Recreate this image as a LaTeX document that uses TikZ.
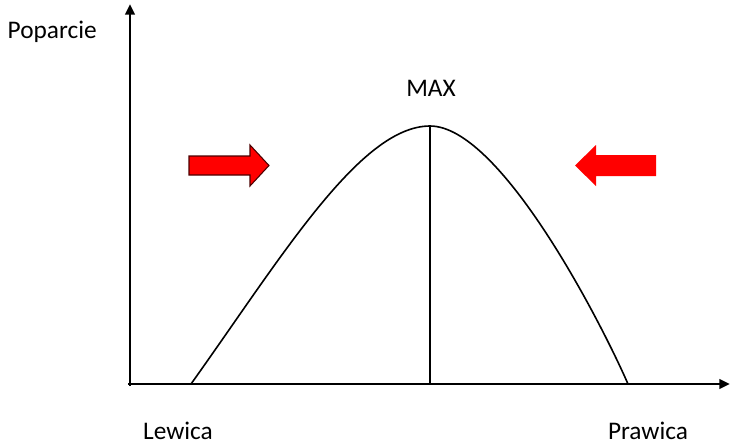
\documentclass[tikz,border=0pt]{standalone}
\usepackage{fontspec}
\setmainfont{Carlito}
\usetikzlibrary{arrows.meta}

\begin{document}
\begin{tikzpicture}[x=0.75pt,y=-0.75pt,
    every node/.style={font=\fontsize{19}{22}\selectfont},
    axis/.style={line width=2.2pt,-{Triangle[length=8pt,width=7pt]}},
    push/.style={fill=red}]
        \useasboundingbox (0,0) rectangle (733,444);

        % 1. Axes
        \coordinate (origin) at (130,384);
        \coordinate (ytop) at (130,4);
        \coordinate (xend) at (730,384);
        \draw[axis] (130,386) -- (ytop);
        \draw[axis] (128,384) -- (xend);

        % 2. Labels
        \node[anchor=west] (poparcie) at (3,32) {Poparcie};
        \node (lewica) at (178,431) {Lewica};
        \node (prawica) at (648,431) {Prawica};
        \node (max) at (431,88) {MAX};

        % 3. Curve with its peak
        \coordinate (peak) at (430,126);
        \coordinate (peakfoot) at (430,384);
        \draw[line width=1.2pt] (191,384) .. controls (281,258) and (360,126) .. (peak)
            .. controls (500,126) and (600,320) .. (628,384);
        \draw[line width=1.2pt] (peak) -- (peakfoot);

        % 4. Arrows pushing to the centre
        \draw[push, draw=black!70!red, line width=0.8pt]
            (189,156) -- (250,156) -- (250,145) -- (269,165.5)
            -- (250,186) -- (250,175) -- (189,175) -- cycle;
        \fill[push]
            (656,155) -- (596,155) -- (596,145) -- (575,165.5)
            -- (596,186) -- (596,176) -- (656,176) -- cycle;

    \end{tikzpicture}
\end{document}
